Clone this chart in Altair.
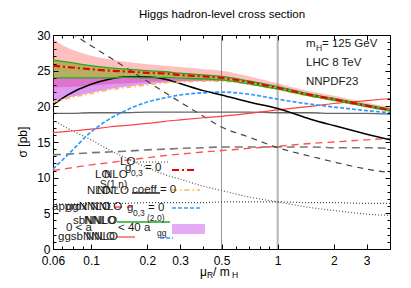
import altair as alt
import pandas as pd

FONT = "Liberation Sans"
OX, OY = 53, 35  # page position of the plot area (used only for annotations)

# ---------------- data ----------------
MU = [0.0625, 0.075, 0.1, 0.125, 0.15, 0.2, 0.25, 0.3, 0.4, 0.5, 0.7, 1, 1.5, 2, 3, 4]

red_dashdot = [25.7, 25.5, 25.2, 25.0, 24.9, 24.7, 24.6, 24.4, 24.2, 24.0, 23.4, 22.6, 21.6, 21.0, 20.1, 19.5]
green_hi = [26.5, 26.2, 25.7, 25.4, 25.25, 25.0, 24.85, 24.65, 24.4, 24.2, 23.55, 22.75, 21.7, 21.1, 20.2, 19.6]
green_lo = [24.0, 24.0, 24.0, 24.0, 24.05, 24.0, 24.05, 23.95, 23.85, 23.7, 23.15, 22.4, 21.45, 20.85, 19.95, 19.35]
yellow_dashdot = [20.6, 21.1, 21.8, 22.3, 22.6, 23.0, 23.3, 23.4, 23.5, 23.5, 23.1, 22.35, 21.4, 20.8, 19.9, 19.3]
pink_hi = [29.4, 28.2, 27.1, 26.6, 26.3, 25.9, 25.7, 25.5, 25.2, 25.0, 24.2, 23.2, 22.1, 21.5, 20.5, 19.9]
pink_lo = [22.6, 22.7, 22.9, 23.1, 23.2, 23.4, 23.5, 23.6, 23.6, 23.6, 23.15, 22.4, 21.4, 20.8, 19.9, 19.3]
violet_hi = [24.0, 24.0, 24.0, 24.0, 24.0, 24.0, 24.0, 23.95, 23.85, 23.7, 23.15, 22.4, 21.45, 20.85, 19.95, 19.35]
violet_lo = [20.7, 21.2, 21.9, 22.4, 22.7, 23.1, 23.35, 23.45, 23.55, 23.55, 23.1, 22.35, 21.4, 20.8, 19.9, 19.3]
black_solid = [20.2, 21.6, 23.1, 23.8, 24.1, 24.1, 23.8, 23.2, 22.2, 21.6, 20.6, 19.7, 18.2, 17.3, 16.1, 15.3]
blue_dashed = [11.2, 13.2, 16.4, 18.2, 19.3, 20.6, 21.2, 21.6, 21.9, 22.0, 21.7, 21.0, 20.3, 19.9, 19.4, 19.1]
black_dashed = [32.0, 30.6, 28.5, 26.9, 25.6, 23.5, 21.9, 20.6, 18.6, 17.1, 15.7, 14.2, 13.0, 12.2, 11.2, 10.7]
gray_dashed = [13.2, 13.3, 13.5, 13.6, 13.7, 13.9, 14.0, 14.1, 14.2, 14.3, 14.3, 14.3, 14.3, 14.2, 14.2, 14.1]
red_dashed = [11.0, 11.3, 11.8, 12.1, 12.4, 12.8, 13.1, 13.3, 13.6, 13.8, 14.1, 14.4, 14.8, 15.0, 15.3, 15.5]
dotted_fall = [18.1, 16.9, 15.3, 13.9, 12.9, 11.4, 10.4, 9.8, 8.8, 8.2, 7.3, 6.6, 5.8, 5.4, 4.9, 4.7]
dotted_flat = [6.3, 6.3, 6.4, 6.4, 6.4, 6.5, 6.5, 6.5, 6.5, 6.6, 6.6, 6.6, 6.5, 6.5, 6.4, 6.4]
gray_solid = [19.0, 19.0, 19.1, 19.1, 19.1, 19.2, 19.2, 19.2, 19.2, 19.2, 19.2, 19.1, 19.1, 19.0, 19.0, 18.9]
red_solid = [16.3, 16.5, 16.8, 17.1, 17.3, 17.6, 17.9, 18.1, 18.4, 18.6, 19.0, 19.5, 20.0, 20.4, 20.8, 21.1]

VLINES = [0.5, 1]
X_MAJOR = [0.0625, 0.1, 0.2, 0.3, 0.5, 1, 2, 3]
X_MINOR = [0.07, 0.08, 0.09, 0.4, 0.6, 0.7, 0.8, 0.9, 4]
Y_MAJOR = [0, 5, 10, 15, 20, 25, 30]
Y_MINOR = [v for v in range(1, 30) if v % 5 != 0]

df = pd.DataFrame({
    "mu": MU, "red_dashdot": red_dashdot, "green_hi": green_hi, "green_lo": green_lo,
    "yellow_dashdot": yellow_dashdot, "pink_hi": pink_hi, "pink_lo": pink_lo,
    "violet_hi": violet_hi, "violet_lo": violet_lo, "black_solid": black_solid,
    "blue_dashed": blue_dashed, "black_dashed": black_dashed, "gray_dashed": gray_dashed,
    "red_dashed": red_dashed, "dotted_fall": dotted_fall, "dotted_flat": dotted_flat,
    "gray_solid": gray_solid, "red_solid": red_solid,
})
one = pd.DataFrame({"k": [0]})

XS = alt.Scale(type="log", domain=[0.0625, 4], nice=False)
YS = alt.Scale(domain=[0, 30], nice=False, zero=False)
X = alt.X("mu:Q", scale=XS, axis=None)


def line(col, color, width, dash=None):
    kw = dict(color=color, strokeWidth=width, clip=True, interpolate="monotone")
    if dash:
        kw["strokeDash"] = dash
    return alt.Chart(df).mark_line(**kw).encode(x=X, y=alt.Y(f"{col}:Q", scale=YS, axis=None))


def band(lo, hi, color, opacity):
    return alt.Chart(df).mark_area(color=color, opacity=opacity, clip=True, interpolate="monotone").encode(
        x=X, y=alt.Y(f"{hi}:Q", scale=YS, axis=None), y2=alt.Y2(f"{lo}:Q"))


def vline(v, color, width):
    return alt.Chart(pd.DataFrame({"mu": [v]})).mark_rule(color=color, strokeWidth=width).encode(x=X)


def txt(s, px, py, size=11.5, align="left", color="#1a1a1a", angle=0):
    kw = dict(text=s, align=align, baseline="middle", font=FONT, fontSize=size, color=color)
    if angle:
        kw["angle"] = angle
    return alt.Chart(one).mark_text(**kw).encode(x=alt.value(px - OX), y=alt.value(py - OY))


def seg(px1, px2, py, color, width=1.2, dash=None):
    kw = dict(color=color, strokeWidth=width)
    if dash:
        kw["strokeDash"] = dash
    return alt.Chart(one).mark_rule(**kw).encode(
        x=alt.value(px1 - OX), x2=alt.value(px2 - OX), y=alt.value(py - OY))


common = dict(grid=False, domain=False, tickColor="black", tickWidth=1, zindex=1, title=None)


def carrier(xaxis, yaxis):
    return alt.Chart(df).mark_point(opacity=0).encode(
        x=alt.X("mu:Q", scale=XS, axis=xaxis),
        y=alt.Y("gray_solid:Q", scale=YS, axis=yaxis))


ax_bottom = alt.Axis(orient="bottom", values=X_MAJOR, tickSize=5, offset=-5, labelFont=FONT,
                     labelFontSize=12, labelColor="black", labelPadding=6, labelFlush=False,
                     labelOverlap=False,
                     labelExpr="datum.value < 0.07 ? '0.06' : format(datum.value, '~g')", **common)
ax_bottom_minor = alt.Axis(orient="bottom", values=X_MINOR, tickSize=3, offset=-3, labels=False, **common)
ax_top = alt.Axis(orient="top", values=X_MAJOR, tickSize=5, offset=-5, labels=False, **common)
ax_top_minor = alt.Axis(orient="top", values=X_MINOR, tickSize=3, offset=-3, labels=False, **common)
ax_left = alt.Axis(orient="left", values=Y_MAJOR, tickSize=5, offset=-5, labelFont=FONT,
                   labelFontSize=12, labelColor="black", labelPadding=3, labelFlush=False,
                   format="d", **common)
ax_left_minor = alt.Axis(orient="left", values=Y_MINOR, tickSize=3, offset=-3, labels=False, **common)
ax_right = alt.Axis(orient="right", values=Y_MAJOR, tickSize=5, offset=-5, labels=False, **common)
ax_right_minor = alt.Axis(orient="right", values=Y_MINOR, tickSize=3, offset=-3, labels=False, **common)

layers = [
    vline(VLINES[0], "#999999", 1),
    vline(VLINES[1], "#b5b5b5", 2),
    band("pink_lo", "pink_hi", "#ff0000", 0.25),
    band("violet_lo", "violet_hi", "#b000e0", 0.4),
    band("green_lo", "green_hi", "#70a000", 0.5),
    line("dotted_fall", "#555555", 1.2, [1, 2]),
    line("dotted_flat", "#444444", 1.2, [1, 2]),
    line("gray_dashed", "#777777", 1.6, [8, 5]),
    line("red_dashed", "#ff5050", 1.4, [7, 5]),
    line("black_dashed", "#444444", 1.2, [6, 5]),
    line("gray_solid", "#666666", 1.3),
    line("red_solid", "#ff4040", 1.2),
    line("blue_dashed", "#3399ff", 1.7, [4, 2]),
    line("black_solid", "#000000", 1.5),
    line("yellow_dashdot", "#ffbb33", 1.5, [5, 3, 1.5, 3]),
    line("green_hi", "#22aa22", 1.3),
    line("green_lo", "#22aa22", 1.3),
    line("red_dashdot", "#ee0000", 2.2, [7, 3, 2, 3]),
    # legend samples (garbled gnuplot key)
    seg(137, 170, 162, "#444444", 1.2, [1, 2]),
    seg(172, 197, 170, "#ee0000", 2.0, [7, 3, 2, 3]),
    seg(172, 200, 190, "#ffbb33", 1.5, [5, 3, 1.5, 3]),
    seg(132, 160, 193, "#000000", 1.3),
    seg(115, 132, 207, "#ff5050", 1.4, [7, 5]),
    seg(172, 200, 208, "#3399ff", 1.7, [4, 2]),
    seg(117, 170, 222, "#22aa22", 1.5),
    alt.Chart(one).mark_rect(color="#b000e0", opacity=0.33).encode(
        x=alt.value(172 - OX), x2=alt.value(205 - OX), y=alt.value(224 - OY), y2=alt.value(234 - OY)),
    seg(117, 135, 237, "#ff4040", 1.2),
    seg(160, 173, 238, "#3399ff", 1.7, [4, 2]),
    # legend texts (overlapping, as in the reference key)
    txt("LO", 120, 162),
    txt("g", 125, 168), txt("0,3", 131, 173, 8.5), txt("= 0", 145, 168),
    txt("LO", 95, 175), txt("NLO", 104, 175),
    txt("S(1,n)", 100, 185, 10),
    txt("NLO", 87, 191), txt("NNLO", 97, 191), txt("coeff = 0", 132, 190),
    txt("approx NNLO", 52, 207), txt("ggNNLO", 66, 207),
    txt("g", 127, 208), txt("0,3", 133, 213, 8.5), txt("= 0", 148, 208),
    txt("sbNNLO", 73, 221), txt("NNLO", 84, 221),
    txt("(2,0)", 147, 218, 8.5),
    txt("0 < a", 66, 228), txt("< 40 a", 118, 228), txt("gg", 157, 233, 8.5),
    txt("ggsbNNLO", 58, 237), txt("NNLO", 86, 237),
    # top-right notes
    txt("m", 306, 44), txt("H", 316, 48, 8.5), txt(" = 125 GeV", 322, 44),
    txt("LHC 8 TeV", 306, 63),
    txt("NNPDF23", 306, 82),
    # titles
    txt("Higgs hadron-level cross section", 222, 15, 11.5, align="center", color="black"),
    txt("σ [pb]", 23, 142, 12, align="center", color="black", angle=270),
    txt("μ", 200, 272, 12, color="black"), txt("R", 207, 275, 8.5, color="black"),
    txt(" / m", 213, 272, 12, color="black"), txt("H", 232, 275, 8.5, color="black"),
    # axes
    carrier(ax_bottom, ax_left),
    carrier(ax_bottom_minor, ax_left_minor),
    carrier(ax_top, ax_right),
    carrier(ax_top_minor, ax_right_minor),
]

chart = alt.layer(*layers).resolve_scale(x="shared", y="shared").resolve_axis(
    x="independent", y="independent"
).properties(
    width=337, height=214,
    autosize=alt.AutoSizeParams(type="none"),
    padding={"left": 45, "top": 27, "right": 13, "bottom": 31},
).configure_view(stroke="black", strokeWidth=1)

chart.save("out.html", embed_options={"renderer": "svg", "actions": False})
